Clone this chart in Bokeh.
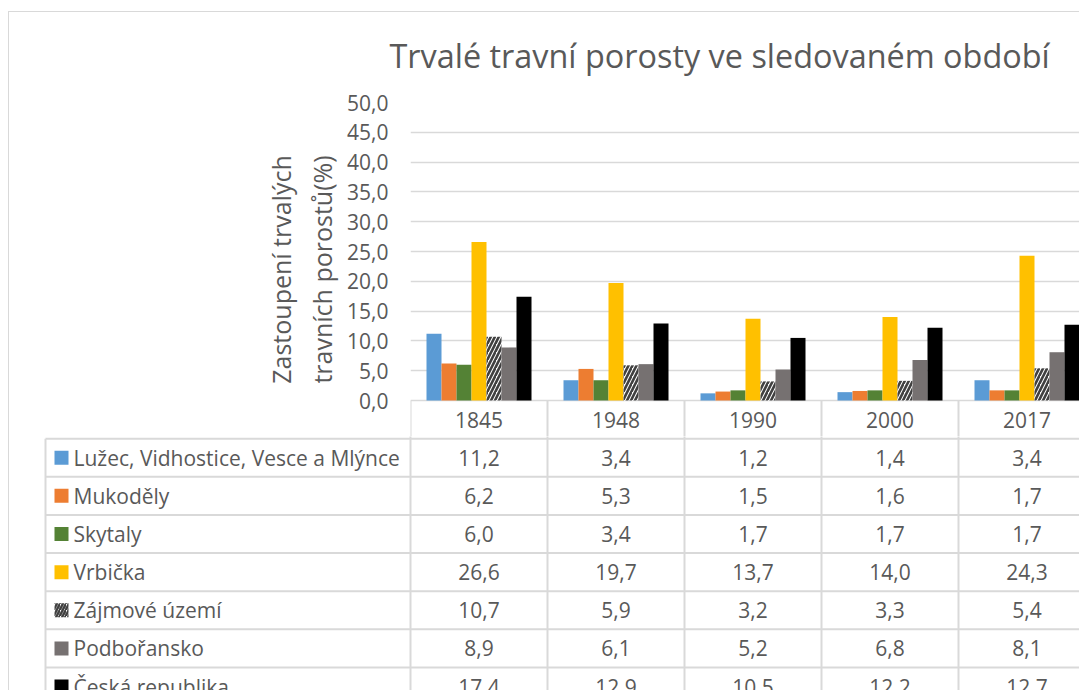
from bokeh.plotting import figure
from bokeh.models import Range1d, FixedTicker, CustomJSTickFormatter
from bokeh.layouts import column
from bokeh.embed import file_html
from bokeh.resources import INLINE
from bokeh.core.properties import value

# ---------------- data ----------------
years = ["1845", "1948", "1990", "2000", "2017"]
series_names = ["Lužec, Vidhostice, Vesce a Mlýnce", "Mukoděly", "Skytaly", "Vrbička",
                "Zájmové území", "Podbořansko", "Česká republika"]
luzec = [11.2, 3.4, 1.2, 1.4, 3.4]
mukodely = [6.2, 5.3, 1.5, 1.6, 1.7]
skytaly = [6.0, 3.4, 1.7, 1.7, 1.7]
vrbicka = [26.6, 19.7, 13.7, 14.0, 24.3]
zajmove = [10.7, 5.9, 3.2, 3.3, 5.4]
podboransko = [8.9, 6.1, 5.2, 6.8, 8.1]
ceska = [17.4, 12.9, 10.5, 12.2, 12.7]
series_values = [luzec, mukodely, skytaly, vrbicka, zajmove, podboransko, ceska]
y_ticks = [0, 5, 10, 15, 20, 25, 30, 35, 40, 45, 50]
title_text = "Trvalé travní porosty ve sledovaném období"
y_label = "Zastoupení trvalých\ntravních porostů(%)"

# ---------------- styles ----------------
colors = ["#5B9BD5", "#ED7D31", "#548235", "#FFC000", "#FFFFFF", "#767171", "#000000"]
hatches = [" ", " ", " ", " ", "/", " ", " "]
HATCH_COLOR = "#404040"
FONT = "Open Sans"
TXT = "#595959"
GRID = "#D9D9D9"

W = 1079
CAT_PX = 137.0          # width of one category in px
FRAME_LEFT = 410        # frame left inside the figure
FRAME_TOP = 102
ZERO_PAGE = 400         # y of value 0 / top of the table
SPLIT_PAGE = 436        # y where the table figure starts
TOP_H = SPLIT_PAGE
PX_Y = 5.96             # px per value unit
BOT_H = 690 - SPLIT_PAGE
ROW_PX = 38.14
BAR_W = 15.0 / CAT_PX

x_end = (W - FRAME_LEFT) / CAT_PX
y_start = -((TOP_H - FRAME_TOP) - 50 * PX_Y) / PX_Y

# ---------------- chart ----------------
p = figure(width=W, height=TOP_H, x_range=Range1d(0, x_end), y_range=Range1d(y_start, 50),
           min_border_left=FRAME_LEFT, min_border_right=0, min_border_top=FRAME_TOP,
           min_border_bottom=0, output_backend="svg", toolbar_location=None,
           title=title_text, frame_align=False)
p.border_fill_color = None
p.title.text_font = FONT
p.title.text_font_size = "32.4px"
p.title.text_font_style = "normal"
p.title.text_color = TXT
p.title.align = "left"
p.title.offset = -21
p.title.standoff = 52

p.outline_line_color = None
p.xaxis.visible = False
p.xgrid.visible = False
p.ygrid.ticker = FixedTicker(ticks=y_ticks)
p.ygrid.grid_line_color = GRID
p.ygrid.grid_line_width = 1.5
yax = p.yaxis[0]
yax.ticker = FixedTicker(ticks=y_ticks)
yax.formatter = CustomJSTickFormatter(code="return tick.toFixed(1).replace('.', ',');")
yax.axis_line_color = None
yax.major_tick_line_color = None
yax.minor_tick_line_color = None
yax.major_tick_out = 0
yax.major_tick_in = 0
yax.minor_tick_out = 0
yax.major_label_standoff = 22
yax.major_label_text_font = FONT
yax.major_label_text_font_size = "21px"
yax.major_label_text_color = TXT
yax.axis_label = y_label
yax.axis_label_text_font = FONT
yax.axis_label_text_font_size = "25px"
yax.axis_label_text_font_style = "normal"
yax.axis_label_text_color = TXT
yax.axis_label_standoff = 5

n_ser = len(series_names)
for j, (vals, col, hat) in enumerate(zip(series_values, colors, hatches)):
    xs = [i + 0.5 + (j - (n_ser - 1) / 2) * BAR_W for i in range(len(years))]
    p.vbar(x=xs, top=vals, bottom=0, width=BAR_W, fill_color=col, line_color=None,
           hatch_pattern=hat, hatch_color=HATCH_COLOR, hatch_weight=2.6, hatch_scale=8)

# table header row (lives in the chart figure, below the zero line)
n_cols = len(years) + 1
p.segment(x0=list(range(n_cols)), x1=list(range(n_cols)),
          y0=[0] * n_cols, y1=[y_start] * n_cols, line_color=GRID, line_width=2)
header_y = -0.5 * ROW_PX / PX_Y
p.text(x=[i + 0.5 for i in range(len(years))], y=[header_y] * len(years), text=years,
       text_align="center", text_baseline="middle", text_font=value(FONT),
       text_font_size="21px", text_color=TXT)

# ---------------- data table ----------------
left_x = -FRAME_LEFT / CAT_PX
q_off = (SPLIT_PAGE - ZERO_PAGE) / ROW_PX
q = figure(width=W, height=BOT_H, x_range=Range1d(left_x, x_end),
           y_range=Range1d(q_off + BOT_H / ROW_PX, q_off),
           min_border=0, output_backend="svg", toolbar_location=None, frame_align=False)
q.axis.visible = False
q.grid.visible = False
q.outline_line_color = None
q.border_fill_color = None
q.background_fill_color = None

col_left = (45 - FRAME_LEFT) / CAT_PX
n_rows = n_ser + 1
# horizontal lines
q.segment(x0=[col_left] * n_ser, x1=[x_end + 1] * n_ser,
          y0=list(range(1, n_rows)), y1=list(range(1, n_rows)), line_color=GRID, line_width=2)
# vertical lines
q.segment(x0=[col_left], x1=[col_left], y0=[1], y1=[n_rows + 1], line_color=GRID, line_width=2)
q.segment(x0=list(range(n_cols)), x1=list(range(n_cols)),
          y0=[0] * n_cols, y1=[n_rows + 1] * n_cols, line_color=GRID, line_width=2)

# legend keys
key_x = (61 - FRAME_LEFT) / CAT_PX
q.rect(x=[key_x] * n_ser, y=[r + 1.5 for r in range(n_ser)], width=14, height=14,
       width_units="screen", height_units="screen", fill_color=colors, line_color=None,
       hatch_pattern=hatches, hatch_color=HATCH_COLOR, hatch_weight=2.4, hatch_scale=6)
lab_x = (73 - FRAME_LEFT) / CAT_PX
q.text(x=[lab_x] * n_ser, y=[r + 1.5 for r in range(n_ser)], text=series_names,
       text_align="left", text_baseline="middle", text_font=value(FONT),
       text_font_size="21px", text_color=TXT)

# values
for r, vals in enumerate(series_values):
    q.text(x=[i + 0.5 for i in range(len(years))], y=[r + 1.5] * len(years),
           text=[f"{v:.1f}".replace(".", ",") for v in vals],
           text_align="center", text_baseline="middle", text_font=value(FONT),
           text_font_size="21px", text_color=TXT)

# chart-area border (left and top edges) drawn behind the transparent figures
layout = column(p, q, spacing=0,
                styles={"background-color": "white",
                        "background-image": "linear-gradient(#D9D9D9, #D9D9D9), "
                                            "linear-gradient(#D9D9D9, #D9D9D9)",
                        "background-size": "1px 100%, 100% 1px",
                        "background-position": "8px 11px, 8px 11px",
                        "background-repeat": "no-repeat"})
open("out.html", "w").write(file_html(layout, INLINE))
